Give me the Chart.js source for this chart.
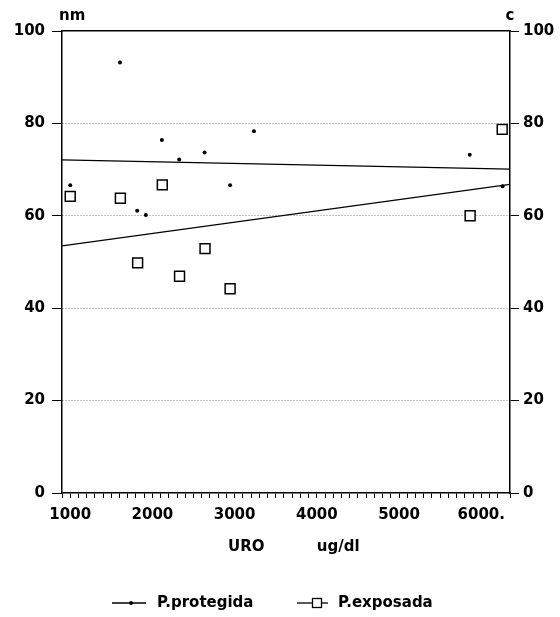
<!DOCTYPE html>
<html>
<head>
<meta charset="utf-8">
<script src="https://cdn.jsdelivr.net/npm/chart.js@4/dist/chart.umd.min.js"></script>
<style>
  html, body { margin: 0; padding: 0; background: #fff; }
  #caja { width: 560px; height: 617px; position: relative; }
</style>
</head>
<body>
<div id="caja"><canvas id="grafica"></canvas></div>
<script>
// datos
const xMarcas = [1000, 2000, 3000, 4000, 5000, 6000];
const xEtiquetas = ['1000', '2000', '3000', '4000', '5000', '6000.'];

const protegidaX = [1000, 1605, 1815, 1920, 2115, 2325, 2635, 2945, 3235, 5860, 6260];
const protegidaY = [66.6, 93.2, 61.1, 60.2, 76.4, 72.2, 73.7, 66.6, 78.3, 73.2, 66.4];

const exposadaX = [1000, 1610, 1820, 2120, 2330, 2640, 2945, 5865, 6255];
const exposadaY = [64.2, 63.8, 49.8, 66.7, 46.9, 52.9, 44.2, 60.0, 78.7];

// rectas de regresion (extremos en el eje)
const tendenciaX = [900, 6350];
const tendenciaProtegida = [72.1, 70.1];
const tendenciaExposada = [53.5, 66.8];

const fuente = { family: 'DejaVu Sans', size: 15, weight: 'bold' };
const xy = (xs, ys) => xs.map((x, i) => ({ x: x, y: ys[i] }));

// leyenda y rotulos sueltos
const rotulos = {
    id: 'rotulos',
    afterDraw(chart) {
        const ctx = chart.ctx;
        const area = chart.chartArea;
        ctx.save();
        ctx.fillStyle = '#000';
        ctx.strokeStyle = '#000';
        ctx.font = 'bold 15px "DejaVu Sans"';
        ctx.textBaseline = 'middle';
        ctx.textAlign = 'left';
        ctx.fillText('nm', area.left - 3, 16);
        ctx.textAlign = 'center';
        ctx.fillText('c', area.right, 16);

        const yl = 603;
        ctx.lineWidth = 1.3;
        // P.protegida
        ctx.beginPath();
        ctx.moveTo(112, yl); ctx.lineTo(146, yl);
        ctx.stroke();
        ctx.beginPath();
        ctx.arc(131, yl, 2, 0, Math.PI * 2);
        ctx.fill();
        ctx.textAlign = 'left';
        ctx.fillText('P.protegida', 157, yl);
        // P.exposada
        ctx.beginPath();
        ctx.moveTo(297, yl); ctx.lineTo(328, yl);
        ctx.stroke();
        ctx.fillStyle = '#fff';
        ctx.fillRect(312.5, yl - 4.5, 9, 9);
        ctx.strokeRect(312.5, yl - 4.5, 9, 9);
        ctx.fillStyle = '#000';
        ctx.fillText('P.exposada', 338, yl);
        ctx.restore();
    }
};

new Chart(document.getElementById('grafica'), {
    type: 'scatter',
    data: {
        datasets: [
            {
                label: 'P.protegida',
                data: xy(protegidaX, protegidaY),
                pointStyle: 'circle',
                pointRadius: 2,
                pointBackgroundColor: '#000',
                pointBorderWidth: 0
            },
            {
                label: 'P.exposada',
                data: xy(exposadaX, exposadaY),
                pointStyle: 'rect',
                pointRadius: 7,
                pointBackgroundColor: '#fff',
                pointBorderColor: '#000',
                pointBorderWidth: 1.5
            },
            {
                label: 'recta protegida',
                data: xy(tendenciaX, tendenciaProtegida),
                showLine: true,
                borderColor: '#000',
                borderWidth: 1.3,
                pointRadius: 0
            },
            {
                label: 'recta exposada',
                data: xy(tendenciaX, tendenciaExposada),
                showLine: true,
                borderColor: '#000',
                borderWidth: 1.3,
                pointRadius: 0
            }
        ]
    },
    options: {
        responsive: true,
        maintainAspectRatio: false,
        animation: false,
        layout: { padding: { top: 31, left: 0, right: 0, bottom: 0 } },
        plugins: {
            legend: { display: false },
            tooltip: { enabled: false }
        },
        scales: {
            x: {
                type: 'linear',
                position: 'bottom',
                min: 900,
                max: 6350,
                afterFit: s => { s.height = 124; },
                ticks: {
                    stepSize: 100,
                    autoSkip: false,
                    maxRotation: 0,
                    color: '#000',
                    font: fuente,
                    padding: 8,
                    callback: v => {
                        const i = xMarcas.indexOf(v);
                        return i >= 0 ? xEtiquetas[i] : '';
                    }
                },
                grid: { drawOnChartArea: false, tickLength: 5, tickColor: '#000', lineWidth: 1 },
                border: { color: '#000', width: 1.5 },
                title: {
                    display: true,
                    text: '   URO          ug/dl',
                    color: '#000',
                    font: fuente,
                    padding: { top: 0, bottom: 61 }
                }
            },
            xArriba: {
                type: 'linear',
                position: 'top',
                min: 900,
                max: 6350,
                afterFit: s => { s.height = 0; },
                ticks: { display: false },
                grid: { display: false, drawTicks: false },
                border: { color: '#000', width: 1.5 }
            },
            y: {
                position: 'left',
                min: 0,
                max: 100,
                afterFit: s => { s.width = 62; },
                ticks: { stepSize: 20, color: '#000', font: fuente, padding: 7 },
                grid: {
                    color: c => (c.tick && (c.tick.value === 0 || c.tick.value === 100)) ? 'rgba(0,0,0,0)' : '#888',
                    lineWidth: 1,
                    tickColor: '#000',
                    tickLength: 10,
                    tickBorderDash: []
                },
                border: { color: '#000', width: 1.5, dash: [1, 2] }
            },
            yDerecha: {
                position: 'right',
                min: 0,
                max: 100,
                afterFit: s => { s.width = 50; },
                ticks: { stepSize: 20, color: '#000', font: fuente, padding: 4 },
                grid: { drawOnChartArea: false, tickColor: '#000', tickLength: 9 },
                border: { color: '#000', width: 1.5 }
            }
        }
    },
    plugins: [rotulos]
});
</script>
</body>
</html>
